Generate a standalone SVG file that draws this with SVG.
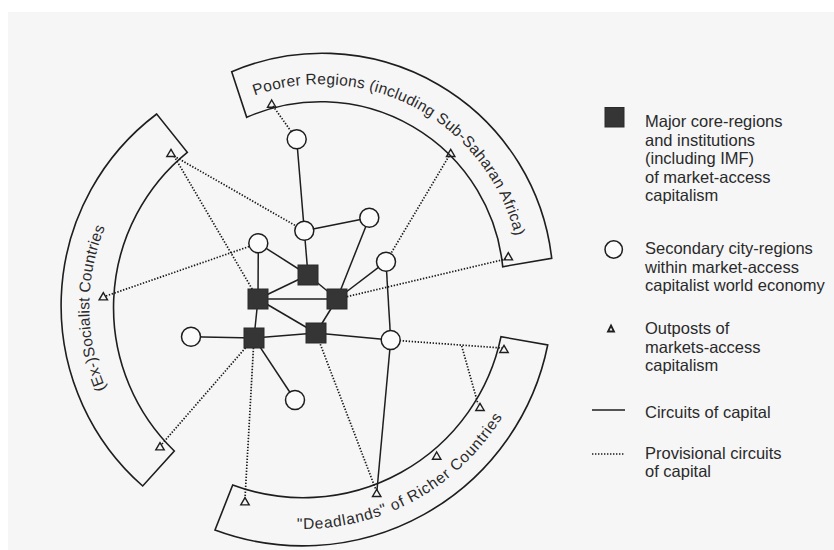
<svg xmlns="http://www.w3.org/2000/svg" width="834" height="550" viewBox="0 0 834 550">
<defs>
<style>
.band{fill:none;stroke:#1e1e1e;stroke-width:1.6}
.solid{stroke:#1e1e1e;stroke-width:1.5;fill:none}
.dot{stroke:#1a1a1a;stroke-width:1.7;stroke-dasharray:1.4 1.6;fill:none}
.core{fill:#353535;stroke:#2a2a2a;stroke-width:1}
.city{fill:#fbfbfb;stroke:#1e1e1e;stroke-width:1.5}
.tri{fill:none;stroke:#1e1e1e;stroke-width:1.4}
.lbl{font-family:"Liberation Sans",Arial,sans-serif;font-size:15.5px;fill:#2a2a2a}
.leg{font-family:"Liberation Sans",Arial,sans-serif;font-size:16.5px;fill:#2a2a2a}
</style>
<path id="t" d="M0,-4 L4.2,3.2 L-4.2,3.2 Z"/>
<path id="arcTop" d="M 254.6,95.6 A 200 200 0 0 1 519,256.2"/>
<path id="arcLeft" d="M 106,389 A 210 210 0 0 1 111,214"/>
<path id="arcBottom" d="M 296.9,528.9 A 233 233 0 0 0 514.2,394.5"/>
</defs>
<rect x="0" y="0" width="834" height="550" fill="#ffffff"/>
<rect x="8" y="12" width="826" height="538" fill="#f6f6f7"/>

<g id="band-poorer">
<path class="band" d="M 246.7,117.3 A 183 183 0 0 1 502.7,266.7 L 551.7,258.3 A 231 231 0 0 0 231.7,71.7 Z"/>
<text class="lbl"><textPath href="#arcTop" textLength="333">Poorer Regions (including Sub-Saharan Africa)</textPath></text>
</g>
<g id="band-socialist">
<path class="band" d="M 187.3,152.3 A 200 200 0 0 0 174.3,451 L 142.7,486 A 240 240 0 0 1 156.7,114 Z"/>
<text class="lbl"><textPath href="#arcLeft" textLength="166">(Ex-)Socialist Countries</textPath></text>
</g>
<g id="band-deadlands">
<path class="band" d="M 232.7,485 A 202 202 0 0 0 501,336.7 L 547.7,345 A 250 250 0 0 1 215,530 Z"/>
<text class="lbl"><textPath href="#arcBottom" textLength="245">"Deadlands" of Richer Countries</textPath></text>
</g>

<g id="connectors">
<line class="solid" x1="296.7" y1="139.3" x2="304.3" y2="230.7"/>
<line class="solid" x1="304.3" y1="230.7" x2="369.3" y2="217.7"/>
<line class="solid" x1="304.3" y1="230.7" x2="308" y2="275"/>
<line class="solid" x1="258.3" y1="243.3" x2="308" y2="275"/>
<line class="solid" x1="258.3" y1="243.3" x2="258" y2="299"/>
<line class="solid" x1="258" y1="299" x2="308" y2="275"/>
<line class="solid" x1="258" y1="299" x2="337" y2="299"/>
<line class="solid" x1="258" y1="299" x2="316" y2="333"/>
<line class="solid" x1="258" y1="299" x2="254" y2="338"/>
<line class="solid" x1="308" y1="275" x2="337" y2="299"/>
<line class="solid" x1="369.3" y1="217.7" x2="337" y2="299"/>
<line class="solid" x1="386" y1="261.7" x2="337" y2="299"/>
<line class="solid" x1="337" y1="299" x2="316" y2="333"/>
<line class="solid" x1="386" y1="261.7" x2="390.7" y2="340"/>
<line class="solid" x1="191" y1="336.7" x2="254" y2="338"/>
<line class="solid" x1="254" y1="338" x2="316" y2="333"/>
<line class="solid" x1="316" y1="333" x2="390.7" y2="340"/>
<line class="solid" x1="254" y1="338" x2="295" y2="400"/>
<line class="solid" x1="390.7" y1="340" x2="377" y2="490"/>
<line class="dot" x1="273" y1="106" x2="296.7" y2="139.3"/>
<line class="dot" x1="449" y1="156" x2="386" y2="261.7"/>
<line class="dot" x1="506" y1="259" x2="337" y2="299"/>
<line class="dot" x1="174" y1="156" x2="304.3" y2="230.7"/>
<line class="dot" x1="174" y1="156" x2="258" y2="299"/>
<line class="dot" x1="106" y1="296" x2="258.3" y2="243.3"/>
<line class="dot" x1="162" y1="444" x2="254" y2="338"/>
<line class="dot" x1="245" y1="499" x2="254" y2="338"/>
<line class="dot" x1="316" y1="333" x2="376" y2="490"/>
<line class="dot" x1="390.7" y1="340" x2="502" y2="348"/>
<line class="dot" x1="461.7" y1="346" x2="478" y2="404"/>
</g>

<g id="outposts">
<use href="#t" class="tri" x="271.7" y="104"/>
<use href="#t" class="tri" x="450.7" y="153.3"/>
<use href="#t" class="tri" x="508.3" y="256.7"/>
<use href="#t" class="tri" x="171" y="153.3"/>
<use href="#t" class="tri" x="103.3" y="296.7"/>
<use href="#t" class="tri" x="160" y="446.7"/>
<use href="#t" class="tri" x="245" y="501.7"/>
<use href="#t" class="tri" x="376.7" y="493.3"/>
<use href="#t" class="tri" x="436.7" y="456"/>
<use href="#t" class="tri" x="480" y="407.3"/>
<use href="#t" class="tri" x="504" y="349.3"/>
</g>

<g id="cities">
<circle class="city" cx="296.7" cy="139.3" r="9.5"/>
<circle class="city" cx="304.3" cy="230.7" r="9.5"/>
<circle class="city" cx="369.3" cy="217.7" r="9.5"/>
<circle class="city" cx="258.3" cy="243.3" r="9.5"/>
<circle class="city" cx="386" cy="261.7" r="9.5"/>
<circle class="city" cx="191" cy="336.7" r="9.5"/>
<circle class="city" cx="390.7" cy="340" r="9.5"/>
<circle class="city" cx="295" cy="400" r="9.5"/>
</g>

<g id="cores">
<rect class="core" x="298" y="265" width="20" height="20"/>
<rect class="core" x="248" y="289" width="20" height="20"/>
<rect class="core" x="327" y="289" width="20" height="20"/>
<rect class="core" x="306" y="323" width="20" height="20"/>
<rect class="core" x="244" y="328" width="20" height="20"/>
</g>

<g id="legend">
<rect class="core" x="605" y="107.5" width="19" height="19.5"/>
<text class="leg" x="645" y="127"><tspan x="645">Major core-regions</tspan><tspan x="645" dy="18.5">and institutions</tspan><tspan x="645" dy="18.5">(including IMF)</tspan><tspan x="645" dy="18.5">of market-access</tspan><tspan x="645" dy="18.5">capitalism</tspan></text>
<circle class="city" cx="613.7" cy="249.5" r="8.7"/>
<text class="leg" x="645" y="254"><tspan x="645">Secondary city-regions</tspan><tspan x="645" dy="18.5">within market-access</tspan><tspan x="645" dy="18.5">capitalist world economy</tspan></text>
<path d="M611,325.5 L614,331.5 L608,331.5 Z" fill="none" stroke="#1e1e1e" stroke-width="1.8"/>
<text class="leg" x="645" y="334"><tspan x="645">Outposts of</tspan><tspan x="645" dy="18.5">markets-access</tspan><tspan x="645" dy="18.5">capitalism</tspan></text>
<line class="solid" x1="592" y1="410" x2="625" y2="410"/>
<text class="leg" x="645" y="418">Circuits of capital</text>
<line class="dot" x1="592" y1="454" x2="625" y2="454"/>
<text class="leg" x="645" y="458.5"><tspan x="645">Provisional circuits</tspan><tspan x="645" dy="18.5">of capital</tspan></text>
</g>
</svg>
